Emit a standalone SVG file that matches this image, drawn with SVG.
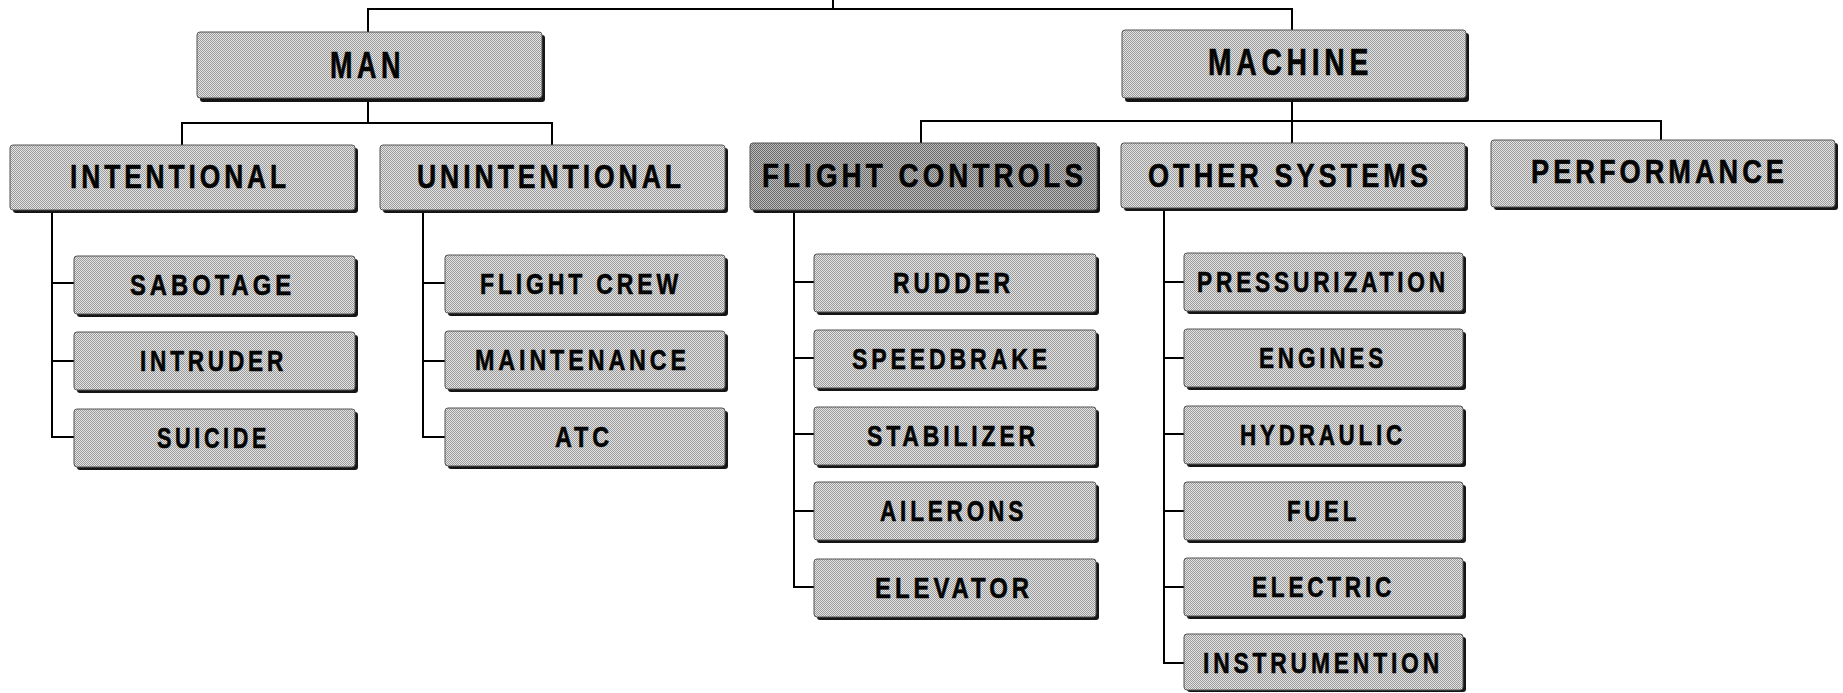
<svg xmlns="http://www.w3.org/2000/svg" width="1843" height="693" viewBox="0 0 1843 693">
<defs>
<pattern id="dither" width="2" height="2" patternUnits="userSpaceOnUse">
<rect width="2" height="2" fill="#e4e4e4"/>
<rect width="1" height="1" fill="#9a9a9a"/>
<rect x="1" y="1" width="1" height="1" fill="#9a9a9a"/>
</pattern>
<pattern id="ditherDark" width="2" height="2" patternUnits="userSpaceOnUse">
<rect width="2" height="2" fill="#bcbcbc"/>
<rect width="1" height="1" fill="#6a6a6a"/>
<rect x="1" y="1" width="1" height="1" fill="#6a6a6a"/>
</pattern>
<style>
.shadow{fill:#151515}
.box{fill:url(#dither);stroke:#555;stroke-width:1}
.dark{fill:url(#ditherDark)}
text{font-family:"Liberation Sans",Arial,sans-serif;font-weight:bold;fill:#050505;stroke:#050505;stroke-width:0.6;text-anchor:middle}
.t1{font-size:36px;letter-spacing:6px}
.t2{font-size:34px;letter-spacing:5px}
.t3{font-size:30px;letter-spacing:5px}
#connectors line{stroke:#000;stroke-width:2;fill:none}
</style>
</defs>
<rect width="1843" height="693" fill="#fff"/>
<g id="connectors">
<line x1="833" y1="0" x2="833" y2="9"/>
<line x1="367" y1="9" x2="1293" y2="9"/>
<line x1="368" y1="9" x2="368" y2="32"/>
<line x1="1292" y1="9" x2="1292" y2="30"/>
<line x1="368" y1="98" x2="368" y2="123"/>
<line x1="181" y1="123" x2="553" y2="123"/>
<line x1="182" y1="123" x2="182" y2="145"/>
<line x1="552" y1="123" x2="552" y2="145"/>
<line x1="1292" y1="98" x2="1292" y2="121"/>
<line x1="920" y1="121" x2="1662" y2="121"/>
<line x1="921" y1="121" x2="921" y2="143"/>
<line x1="1292" y1="121" x2="1292" y2="143"/>
<line x1="1661" y1="121" x2="1661" y2="140"/>
<line x1="52" y1="212" x2="52" y2="438"/>
<line x1="51" y1="283" x2="74" y2="283"/>
<line x1="51" y1="361" x2="74" y2="361"/>
<line x1="51" y1="437" x2="74" y2="437"/>
<line x1="423" y1="212" x2="423" y2="438"/>
<line x1="422" y1="283" x2="445" y2="283"/>
<line x1="422" y1="361" x2="445" y2="361"/>
<line x1="422" y1="437" x2="445" y2="437"/>
<line x1="794" y1="212" x2="794" y2="588"/>
<line x1="793" y1="282" x2="814" y2="282"/>
<line x1="793" y1="358" x2="814" y2="358"/>
<line x1="793" y1="434" x2="814" y2="434"/>
<line x1="793" y1="511" x2="814" y2="511"/>
<line x1="793" y1="587" x2="814" y2="587"/>
<line x1="1164" y1="211" x2="1164" y2="664"/>
<line x1="1163" y1="282" x2="1184" y2="282"/>
<line x1="1163" y1="358" x2="1184" y2="358"/>
<line x1="1163" y1="434" x2="1184" y2="434"/>
<line x1="1163" y1="511" x2="1184" y2="511"/>
<line x1="1163" y1="587" x2="1184" y2="587"/>
<line x1="1163" y1="663" x2="1184" y2="663"/>
</g>
<g id="n-man"><rect class="shadow" x="200" y="35" width="345" height="67" rx="3"/><rect class="box" x="197" y="32" width="345" height="66" rx="3"/><text class="t1" x="367.5" y="78" textLength="75" lengthAdjust="spacingAndGlyphs">MAN</text></g>
<g id="n-machine"><rect class="shadow" x="1125" y="33" width="344" height="69" rx="3"/><rect class="box" x="1122" y="30" width="344" height="68" rx="3"/><text class="t1" x="1290.5" y="75" textLength="165" lengthAdjust="spacingAndGlyphs">MACHINE</text></g>
<g id="n-intentional"><rect class="shadow" x="13" y="148" width="345" height="65" rx="3"/><rect class="box" x="10" y="145" width="345" height="65" rx="3"/><text class="t2" x="180" y="188" textLength="220" lengthAdjust="spacingAndGlyphs">INTENTIONAL</text></g>
<g id="n-unintentional"><rect class="shadow" x="383" y="148" width="345" height="65" rx="3"/><rect class="box" x="380" y="145" width="345" height="65" rx="3"/><text class="t2" x="551" y="188" textLength="268" lengthAdjust="spacingAndGlyphs">UNINTENTIONAL</text></g>
<g id="n-flight-controls"><rect class="shadow" x="753" y="146" width="347" height="67" rx="3"/><rect class="box dark" x="750" y="143" width="347" height="67" rx="3"/><text class="t2" x="924.5" y="187" textLength="325" lengthAdjust="spacingAndGlyphs">FLIGHT CONTROLS</text></g>
<g id="n-other-systems"><rect class="shadow" x="1124" y="146" width="344" height="65" rx="3"/><rect class="box" x="1121" y="143" width="344" height="65" rx="3"/><text class="t2" x="1290" y="187" textLength="284" lengthAdjust="spacingAndGlyphs">OTHER SYSTEMS</text></g>
<g id="n-performance"><rect class="shadow" x="1494" y="143" width="344" height="67" rx="3"/><rect class="box" x="1491" y="140" width="344" height="67" rx="3"/><text class="t2" x="1659.5" y="183" textLength="257" lengthAdjust="spacingAndGlyphs">PERFORMANCE</text></g>
<g id="n-sabotage"><rect class="shadow" x="77" y="259" width="281" height="58" rx="3"/><rect class="box" x="74" y="256" width="281" height="58" rx="3"/><text class="t3" x="212.5" y="295" textLength="165" lengthAdjust="spacingAndGlyphs">SABOTAGE</text></g>
<g id="n-intruder"><rect class="shadow" x="77" y="335" width="281" height="58" rx="3"/><rect class="box" x="74" y="332" width="281" height="58" rx="3"/><text class="t3" x="213.5" y="371" textLength="147" lengthAdjust="spacingAndGlyphs">INTRUDER</text></g>
<g id="n-suicide"><rect class="shadow" x="77" y="412" width="281" height="58" rx="3"/><rect class="box" x="74" y="409" width="281" height="58" rx="3"/><text class="t3" x="213.5" y="448" textLength="113" lengthAdjust="spacingAndGlyphs">SUICIDE</text></g>
<g id="n-flight-crew"><rect class="shadow" x="448" y="258" width="280" height="58" rx="3"/><rect class="box" x="445" y="255" width="280" height="58" rx="3"/><text class="t3" x="581" y="294" textLength="202" lengthAdjust="spacingAndGlyphs">FLIGHT CREW</text></g>
<g id="n-maintenance"><rect class="shadow" x="448" y="334" width="280" height="58" rx="3"/><rect class="box" x="445" y="331" width="280" height="58" rx="3"/><text class="t3" x="582.5" y="370" textLength="215" lengthAdjust="spacingAndGlyphs">MAINTENANCE</text></g>
<g id="n-atc"><rect class="shadow" x="448" y="411" width="280" height="58" rx="3"/><rect class="box" x="445" y="408" width="280" height="58" rx="3"/><text class="t3" x="584" y="447" textLength="58" lengthAdjust="spacingAndGlyphs">ATC</text></g>
<g id="n-rudder"><rect class="shadow" x="817" y="257" width="282" height="58" rx="3"/><rect class="box" x="814" y="254" width="282" height="58" rx="3"/><text class="t3" x="953.5" y="293" textLength="121" lengthAdjust="spacingAndGlyphs">RUDDER</text></g>
<g id="n-speedbrake"><rect class="shadow" x="817" y="333" width="282" height="58" rx="3"/><rect class="box" x="814" y="330" width="282" height="58" rx="3"/><text class="t3" x="951.5" y="369" textLength="199" lengthAdjust="spacingAndGlyphs">SPEEDBRAKE</text></g>
<g id="n-stabilizer"><rect class="shadow" x="817" y="410" width="282" height="58" rx="3"/><rect class="box" x="814" y="407" width="282" height="58" rx="3"/><text class="t3" x="953" y="446" textLength="172" lengthAdjust="spacingAndGlyphs">STABILIZER</text></g>
<g id="n-ailerons"><rect class="shadow" x="817" y="485" width="282" height="58" rx="3"/><rect class="box" x="814" y="482" width="282" height="58" rx="3"/><text class="t3" x="953.5" y="521" textLength="147" lengthAdjust="spacingAndGlyphs">AILERONS</text></g>
<g id="n-elevator"><rect class="shadow" x="817" y="562" width="282" height="58" rx="3"/><rect class="box" x="814" y="559" width="282" height="58" rx="3"/><text class="t3" x="954" y="598" textLength="158" lengthAdjust="spacingAndGlyphs">ELEVATOR</text></g>
<g id="n-pressurization"><rect class="shadow" x="1187" y="256" width="279" height="58" rx="3"/><rect class="box" x="1184" y="253" width="279" height="58" rx="3"/><text class="t3" x="1323" y="292" textLength="252" lengthAdjust="spacingAndGlyphs">PRESSURIZATION</text></g>
<g id="n-engines"><rect class="shadow" x="1187" y="332" width="279" height="58" rx="3"/><rect class="box" x="1184" y="329" width="279" height="58" rx="3"/><text class="t3" x="1323" y="368" textLength="128" lengthAdjust="spacingAndGlyphs">ENGINES</text></g>
<g id="n-hydraulic"><rect class="shadow" x="1187" y="409" width="279" height="58" rx="3"/><rect class="box" x="1184" y="406" width="279" height="58" rx="3"/><text class="t3" x="1323" y="445" textLength="166" lengthAdjust="spacingAndGlyphs">HYDRAULIC</text></g>
<g id="n-fuel"><rect class="shadow" x="1187" y="485" width="279" height="58" rx="3"/><rect class="box" x="1184" y="482" width="279" height="58" rx="3"/><text class="t3" x="1323.5" y="521" textLength="73" lengthAdjust="spacingAndGlyphs">FUEL</text></g>
<g id="n-electric"><rect class="shadow" x="1187" y="561" width="279" height="58" rx="3"/><rect class="box" x="1184" y="558" width="279" height="58" rx="3"/><text class="t3" x="1323.5" y="597" textLength="143" lengthAdjust="spacingAndGlyphs">ELECTRIC</text></g>
<g id="n-instrumention"><rect class="shadow" x="1187" y="637" width="279" height="55" rx="3"/><rect class="box" x="1184" y="634" width="279" height="56" rx="3"/><text class="t3" x="1323" y="673" textLength="240" lengthAdjust="spacingAndGlyphs">INSTRUMENTION</text></g>
</svg>
